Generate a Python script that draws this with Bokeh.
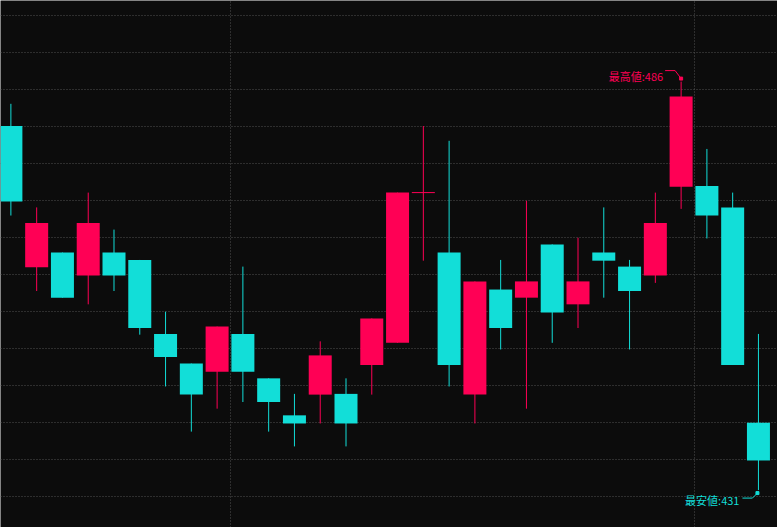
from bokeh.plotting import figure
from bokeh.embed import file_html
from bokeh.resources import INLINE
from bokeh.models import FixedTicker, Range1d, ColumnDataSource, Grid
from bokeh.core.properties import value

# ---- data ----
opens  = [480.0, 460.9, 462.9, 459.8, 462.9, 461.9, 451.9, 447.9, 446.8, 451.9,
          445.9, 440.9, 443.7, 443.8, 447.7, 450.7, 471.0, 462.9, 443.7, 457.9,
          456.8, 464.0, 455.9, 462.9, 461.0, 459.8, 471.8, 471.9, 469.0, 439.9]
closes = [469.8, 466.9, 456.8, 466.9, 459.8, 452.7, 448.8, 443.7, 452.9, 446.8,
          442.7, 439.8, 449.0, 439.8, 454.0, 471.0, 471.0, 447.7, 459.0, 452.7,
          459.0, 454.8, 459.0, 461.8, 457.7, 466.9, 484.0, 467.9, 447.7, 434.8]
highs  = [483.0, 469.0, 462.9, 471.0, 466.0, 461.9, 454.9, 447.9, 452.9, 461.0,
          445.9, 443.8, 450.9, 445.9, 454.0, 471.0, 480.0, 478.0, 459.0, 461.9,
          469.9, 464.0, 464.9, 469.0, 461.9, 471.0, 486.0, 476.9, 471.0, 451.9]
lows   = [467.9, 457.7, 456.8, 455.9, 457.7, 451.8, 444.8, 438.7, 441.8, 442.7,
          438.7, 436.7, 439.8, 436.7, 443.7, 450.7, 461.8, 444.8, 439.8, 449.8,
          441.8, 450.7, 452.7, 456.8, 449.8, 458.8, 468.8, 464.8, 447.7, 430.8]
price_levels = [430, 435, 440, 445, 450, 455, 460, 465, 470, 475, 480, 485, 490, 495]
period_breaks = [8.5, 26.5]
high_label = "最高値"
low_label = "最安値"

# ---- style ----
UP = "#ff0055"
DOWN = "#12ded8"
BG = "#0c0c0c"
GRID = "#505050"
W, H = 777, 527
PPX = 25.778          # pixels per candle slot
PPY = 7.4             # pixels per price unit
X0 = 8.5 - 229.5 / PPX
X1 = X0 + W / PPX
Y1 = 485 + 88.5 / PPY
Y0 = Y1 - H / PPY

idx = list(range(len(opens)))
colors = [UP if c >= o else DOWN for o, c in zip(opens, closes)]
src = ColumnDataSource(dict(
    x=idx, o=opens, c=closes, h=highs, l=lows,
    top=[max(o, c) for o, c in zip(opens, closes)],
    bot=[min(o, c) for o, c in zip(opens, closes)],
    color=colors,
))

p = figure(width=W, height=H, x_range=Range1d(X0, X1), y_range=Range1d(Y0, Y1),
           x_axis_type=None, y_axis_type=None,
           output_backend="svg", toolbar_location=None, min_border=0,
           background_fill_color=BG, border_fill_color=BG)
p.outline_line_color = None
p.add_layout(Grid(dimension=0, ticker=FixedTicker(ticks=period_breaks),
                  grid_line_color=GRID, grid_line_dash="1 2", grid_line_width=1))
p.add_layout(Grid(dimension=1, ticker=FixedTicker(ticks=price_levels),
                  grid_line_color=GRID, grid_line_dash="1 2", grid_line_width=1))

# wicks
p.segment(x0="x", y0="l", x1="x", y1="h", line_color="color", line_width=1, source=src)
# bodies
BODY_W = 23 / PPX
p.vbar(x="x", width=BODY_W, top="top", bottom="bot", fill_color="color",
       line_color=None, source=src)
# doji bars (open == close)
dj = [i for i in idx if abs(opens[i] - closes[i]) < 0.05]
p.segment(x0=[i - BODY_W / 2 for i in dj], x1=[i + BODY_W / 2 for i in dj],
          y0=[opens[i] for i in dj], y1=[opens[i] for i in dj],
          line_color=[colors[i] for i in dj], line_width=1)

# ---- max / min annotations ----
def at(xd, yd, dx, dy):
    """data point shifted by screen pixels (dy positive = down)"""
    return xd + dx / PPX, yd - dy / PPY


imax = highs.index(max(highs))
imin = lows.index(min(lows))
hx, hy = imax, highs[imax]
lx, ly = imin, lows[imin]

# high
pts = [at(hx, hy, -16, -11), at(hx, hy, -6, -11), at(hx, hy, 0, -3)]
p.line([q[0] for q in pts], [q[1] for q in pts], line_color=UP, line_width=1)
p.scatter([pts[-1][0]], [pts[-1][1]], marker="square", size=3, color=UP)
tx, ty = at(hx, hy, -18, -6)
p.text([tx], [ty], text=[f"{high_label}:{max(highs):.0f}"], text_color=UP,
       text_font=value("Noto Sans CJK JP"), text_font_size="11px",
       text_align="right", text_baseline="middle")

# low
pts = [at(lx, ly, -16, 8), at(lx, ly, -6, 8), at(lx, ly, -1, 3)]
p.line([q[0] for q in pts], [q[1] for q in pts], line_color=DOWN, line_width=1)
p.scatter([pts[-1][0]], [pts[-1][1]], marker="square", size=3, color=DOWN)
tx, ty = at(lx, ly, -19, 10)
p.text([tx], [ty], text=[f"{low_label}:{min(lows):.0f}"], text_color=DOWN,
       text_font=value("Noto Sans CJK JP"), text_font_size="11px",
       text_align="right", text_baseline="middle")

html = file_html(p, INLINE)
html = html.replace("<body>", '<body style="margin:0;background:%s;overflow:hidden;">' % BG, 1)
open("out.html", "w").write(html)
